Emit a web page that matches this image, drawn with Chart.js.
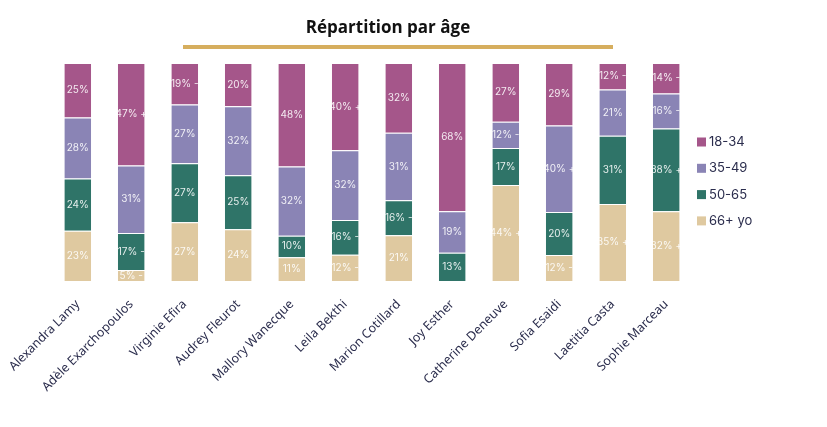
<!DOCTYPE html>
<html>
<head>
<meta charset="utf-8">
<script src="https://cdn.jsdelivr.net/npm/chart.js@4.4.1/dist/chart.umd.min.js"></script>
<style>
  html, body { margin: 0; padding: 0; background: #fff; }
  canvas { display: block; }
</style>
</head>
<body>
<canvas id="ageChart" width="827" height="427"></canvas>
<script>
// actrices
var categories = ["Alexandra Lamy", "Adèle Exarchopoulos", "Virginie Efira", "Audrey Fleurot",
  "Mallory Wanecque", "Leila Bekthi", "Marion Cotillard", "Joy Esther",
  "Catherine Deneuve", "Sofia Esaidi", "Laetitia Casta", "Sophie Marceau"];

// % par tranche d'age
var age1834 = [25, 47, 19, 20, 48, 40, 32, 68, 27, 29, 12, 14];
var age3549 = [28, 31, 27, 32, 32, 32, 31, 19, 12, 40, 21, 16];
var age5065 = [24, 17, 27, 25, 10, 16, 16, 13, 17, 20, 31, 38];
var age66 = [23, 5, 27, 24, 11, 12, 21, 0, 44, 12, 35, 32];

// marqueurs + / - affiches a cote des valeurs
var mark1834 = ["", "+", "-", "", "", "+", "", "", "", "", "-", "-"];
var mark3549 = ["", "", "", "", "", "", "", "", "-", "+", "", "-"];
var mark5065 = ["", "-", "", "", "", "-", "-", "", "", "", "", "+"];
var mark66 = ["", "-", "", "", "", "-", "", "", "+", "-", "+", "+"];

var textColor = "#2b2d4d";

// les arrondis ne font pas toujours 100 : on ramene chaque barre a 100%
function share(values) {
  return values.map(function(v, j) {
    var total = age1834[j] + age3549[j] + age5065[j] + age66[j];
    return v / total * 100;
  });
}

var valueLabels = {
  id: "valueLabels",
  afterDatasetsDraw: function(chart) {
    var ctx = chart.ctx;
    ctx.save();
    ctx.font = "10px Inter";
    ctx.fillStyle = "rgba(255,255,255,0.88)";
    ctx.textAlign = "center";
    ctx.textBaseline = "middle";
    chart.data.datasets.forEach(function(ds, i) {
      var meta = chart.getDatasetMeta(i);
      meta.data.forEach(function(bar, j) {
        var v = ds.raw[j];
        if (!v) return;
        var txt = v + "%" + (ds.marks[j] ? " " + ds.marks[j] : "");
        ctx.fillText(txt, bar.x, (bar.y + bar.base) / 2);
      });
    });
    ctx.restore();
  }
};

var titleAndLegend = {
  id: "titleAndLegend",
  afterDraw: function(chart) {
    var ctx = chart.ctx;
    ctx.save();
    // titre
    ctx.font = "bold 17px 'Open Sans'";
    ctx.fillStyle = "#111";
    ctx.textAlign = "center";
    ctx.textBaseline = "alphabetic";
    ctx.fillText("Répartition par âge", 388, 33);
    ctx.fillStyle = "#d6ae5e";
    ctx.fillRect(183, 45, 430, 4);
    // legende
    ctx.font = "13px Inter";
    ctx.textAlign = "left";
    ctx.textBaseline = "middle";
    var ds = chart.data.datasets.slice().reverse();
    ds.forEach(function(d, k) {
      var y = 142 + k * 26.3;
      ctx.fillStyle = d.backgroundColor;
      ctx.fillRect(697, y - 4.5, 9, 9);
      ctx.fillStyle = textColor;
      ctx.fillText(d.label, 709, y);
    });
    ctx.restore();
  }
};

var ctx = document.getElementById("ageChart");
var ageChart = new Chart(ctx, {
  type: "bar",
  data: {
    labels: categories,
    datasets: [
      { label: "66+ yo", data: share(age66), raw: age66, marks: mark66, backgroundColor: "#dfc9a0" },
      { label: "50-65", data: share(age5065), raw: age5065, marks: mark5065, backgroundColor: "#2f7468" },
      { label: "35-49", data: share(age3549), raw: age3549, marks: mark3549, backgroundColor: "#8a84b5" },
      { label: "18-34", data: share(age1834), raw: age1834, marks: mark1834, backgroundColor: "#a5568a" }
    ]
  },
  options: {
    responsive: false,
    animation: false,
    datasets: {
      bar: {
        categoryPercentage: 1,
        barPercentage: 0.5,
        borderWidth: { top: 1 },
        borderColor: "rgba(255,255,255,0.7)",
        borderSkipped: false
      }
    },
    layout: { padding: { left: 51, right: 134, top: 63, bottom: 0 } },
    plugins: {
      legend: { display: false },
      tooltip: { enabled: false }
    },
    scales: {
      x: {
        stacked: true,
        grid: { display: false },
        border: { display: false },
        ticks: {
          minRotation: 45,
          maxRotation: 45,
          padding: 8,
          color: textColor,
          font: { family: "Noto Sans", size: 12.5 }
        },
        afterFit: function(scale) { scale.height = 146; }
      },
      y: {
        stacked: true,
        display: false,
        min: 0,
        max: 100
      }
    }
  },
  plugins: [valueLabels, titleAndLegend]
});
</script>
</body>
</html>
